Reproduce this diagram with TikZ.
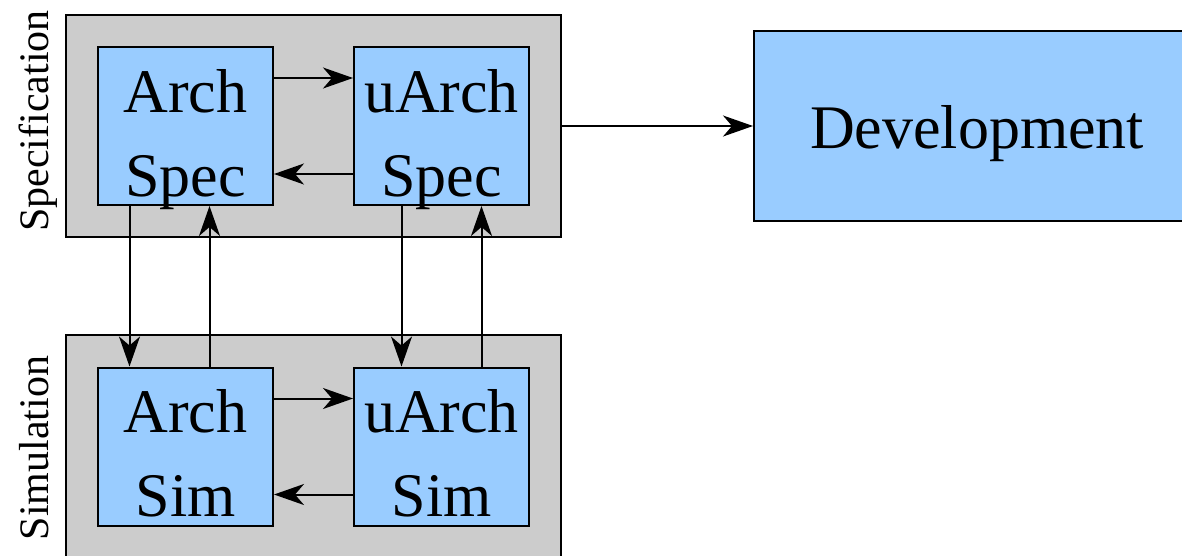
\documentclass[tikz,border=0pt]{standalone}
\usepackage{fontspec}
\setmainfont{Liberation Serif}
\usepackage{xcolor}
\usetikzlibrary{arrows.meta}

\definecolor{boxblue}{RGB}{153,204,255}
\definecolor{groupgray}{RGB}{204,204,204}

\begin{document}
\begin{tikzpicture}[x=1pt,y=-1pt,
    group/.style={draw, line width=2pt, fill=groupgray, inner sep=0pt,
        minimum width=495pt, minimum height=222pt},
    block/.style={draw, line width=2pt, fill=boxblue, inner sep=0pt, align=center,
        minimum width=175pt, minimum height=158pt, text height=140pt, text depth=0pt,
        font=\fontsize{62}{84}\selectfont},
    side/.style={rotate=90, anchor=base, font=\fontsize{42}{50}\selectfont},
    link/.style={-{Stealth[length=30pt,width=21pt,inset=9pt]}, line width=2pt}]
    \useasboundingbox (0,0) rectangle (1182,555);

    % Draw the two grey groups
    \node[group] (specgrp) at (313.5,126) {};
    \node[group] (simgrp) at (313.5,446) {};

    % Draw the side labels
    \node[side] (speclabel) at (48,121) {Specification};
    \node[side] (simlabel) at (48,448) {Simulation};

    % Draw the four blue boxes
    \node[block] (archspec) at (185.5,126) {Arch\\Spec};
    \node[block] (uarchspec) at (441.5,126) {uArch\\Spec};
    \node[block] (archsim) at (185.5,446.5) {Arch\\Sim};
    \node[block] (uarchsim) at (441.5,446.5) {uArch\\Sim};

    % Draw the development box
    \node[block, minimum width=446pt, minimum height=190pt, text height=44pt] (dev) at (977,126) {Development};

    % Draw the arrows inside the groups
    \draw[link] ([yshift=48pt]archspec.east) -- ([yshift=48pt]uarchspec.west);
    \draw[link] ([yshift=-48pt]uarchspec.west) -- ([yshift=-48pt]archspec.east);
    \draw[link] ([yshift=48pt]archsim.east) -- ([yshift=48pt]uarchsim.west);
    \draw[link] ([yshift=-48pt]uarchsim.west) -- ([yshift=-48pt]archsim.east);

    % Draw the arrows between the groups
    \draw[link] ([xshift=-56pt]archspec.south) -- ([xshift=-56pt]archsim.north);
    \draw[link] ([xshift=24pt]archsim.north) -- ([xshift=24pt]archspec.south);
    \draw[link] ([xshift=-40pt]uarchspec.south) -- ([xshift=-40pt]uarchsim.north);
    \draw[link] ([xshift=40pt]uarchsim.north) -- ([xshift=40pt]uarchspec.south);

    % Draw the arrow to development
    \draw[link] (specgrp.east) -- (dev.west);
\end{tikzpicture}
\end{document}
